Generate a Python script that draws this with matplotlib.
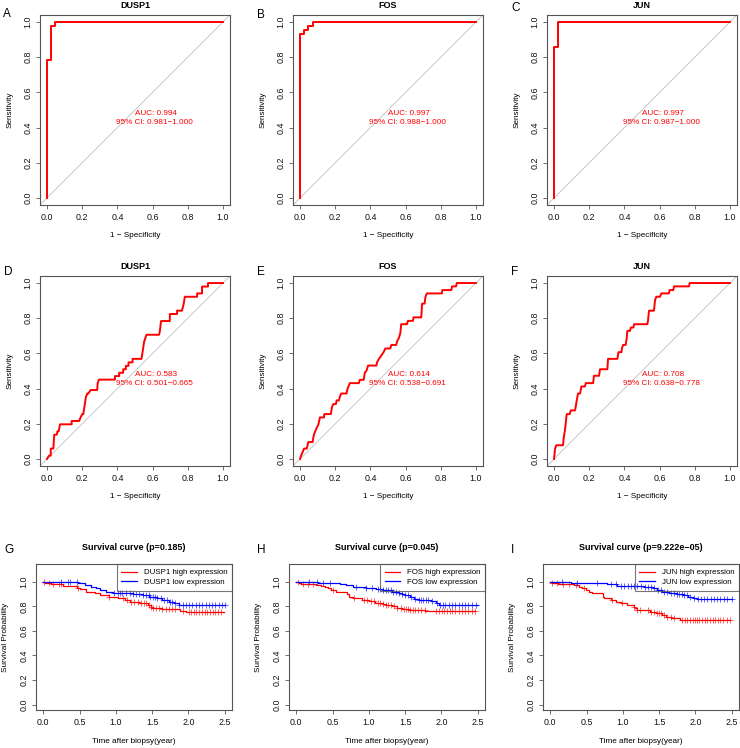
import matplotlib
matplotlib.use("Agg")
import matplotlib.pyplot as plt
import numpy as np

plt.rcParams["font.family"] = ["Liberation Sans", "DejaVu Sans"]

# ---- ROC data (1 - specificity, sensitivity vertices) ----
roc_genes = ["DUSP1", "FOS", "JUN"]

roc_a_fpr = [0, 0, 0.023, 0.023, 0.047, 0.047, 1]
roc_a_tpr = [0, 0.786, 0.786, 0.977, 0.977, 1, 1]
roc_b_fpr = [0, 0, 0.025, 0.025, 0.047, 0.047, 0.072, 0.072, 1]
roc_b_tpr = [0, 0.932, 0.932, 0.955, 0.955, 0.977, 0.977, 1, 1]
roc_c_fpr = [0, 0, 0.025, 0.025, 1]
roc_c_tpr = [0, 0.857, 0.857, 1, 1]

roc_d_fpr = [0.0, 0.011, 0.021, 0.021, 0.036, 0.041, 0.055, 0.059, 0.066, 0.074, 0.140, 0.140,
             0.183, 0.190, 0.200, 0.206, 0.221, 0.229, 0.235, 0.248, 0.285, 0.288, 0.295, 0.386,
             0.386, 0.410, 0.410, 0.433, 0.433, 0.448, 0.448, 0.463, 0.463, 0.486, 0.486, 0.537,
             0.546, 0.552, 0.565, 0.637, 0.641, 0.648, 0.698, 0.698, 0.739, 0.739, 0.767, 0.777,
             0.783, 0.853, 0.853, 0.881, 0.881, 0.915, 0.915, 1.0]
roc_d_tpr = [0.0, 0.019, 0.019, 0.059, 0.059, 0.138, 0.138, 0.157, 0.157, 0.197, 0.197, 0.216,
             0.216, 0.235, 0.255, 0.255, 0.353, 0.372, 0.372, 0.392, 0.392, 0.431, 0.451, 0.451,
             0.471, 0.471, 0.490, 0.490, 0.510, 0.510, 0.529, 0.529, 0.549, 0.549, 0.569, 0.569,
             0.627, 0.667, 0.706, 0.706, 0.725, 0.784, 0.784, 0.824, 0.824, 0.843, 0.843, 0.882,
             0.922, 0.922, 0.941, 0.941, 0.980, 0.980, 1.0, 1.0]

roc_e_fpr = [0.0, 0.006, 0.015, 0.023, 0.038, 0.047, 0.072, 0.075, 0.079, 0.094, 0.104, 0.113,
             0.136, 0.138, 0.175, 0.181, 0.189, 0.204, 0.208, 0.221, 0.226, 0.234, 0.264, 0.270,
             0.283, 0.334, 0.340, 0.362, 0.368, 0.377, 0.387, 0.434, 0.438, 0.449, 0.462, 0.475,
             0.485, 0.513, 0.519, 0.547, 0.551, 0.562, 0.570, 0.575, 0.608, 0.613, 0.642, 0.645,
             0.689, 0.694, 0.708, 0.713, 0.721, 0.806, 0.809, 0.860, 0.864, 0.887, 0.891, 1.0]
roc_e_tpr = [0.0, 0.019, 0.040, 0.059, 0.059, 0.096, 0.096, 0.119, 0.138, 0.176, 0.195, 0.236,
             0.236, 0.255, 0.255, 0.293, 0.312, 0.312, 0.333, 0.333, 0.353, 0.372, 0.372, 0.399,
             0.431, 0.431, 0.450, 0.450, 0.490, 0.501, 0.531, 0.531, 0.550, 0.569, 0.588, 0.607,
             0.628, 0.628, 0.648, 0.648, 0.667, 0.688, 0.715, 0.766, 0.766, 0.785, 0.785, 0.805,
             0.805, 0.883, 0.883, 0.922, 0.941, 0.941, 0.960, 0.960, 0.981, 0.981, 1.0, 1.0]

roc_f_fpr = [0.0, 0.006, 0.013, 0.051, 0.055, 0.061, 0.066, 0.072, 0.089, 0.095, 0.119, 0.123,
             0.129, 0.136, 0.148, 0.152, 0.155, 0.176, 0.180, 0.222, 0.227, 0.256, 0.261, 0.303,
             0.307, 0.360, 0.366, 0.383, 0.386, 0.392, 0.407, 0.413, 0.417, 0.432, 0.436, 0.451,
             0.455, 0.530, 0.534, 0.540, 0.568, 0.574, 0.581, 0.602, 0.610, 0.653, 0.657, 0.678,
             0.682, 0.767, 0.771, 1.0]
roc_f_tpr = [0.0, 0.059, 0.078, 0.078, 0.119, 0.157, 0.198, 0.255, 0.255, 0.276, 0.276, 0.295,
             0.333, 0.372, 0.372, 0.393, 0.412, 0.412, 0.431, 0.431, 0.473, 0.473, 0.510, 0.510,
             0.569, 0.569, 0.607, 0.607, 0.628, 0.648, 0.648, 0.686, 0.728, 0.728, 0.747, 0.747,
             0.766, 0.766, 0.785, 0.843, 0.843, 0.902, 0.922, 0.922, 0.941, 0.941, 0.960, 0.960,
             0.981, 0.981, 1.0, 1.0]

roc_auc = ["0.994", "0.997", "0.997", "0.583", "0.614", "0.708"]
roc_ci = ["0.981\u22121.000", "0.988\u22121.000", "0.987\u22121.000",
          "0.501\u22120.665", "0.538\u22120.691", "0.638\u22120.778"]

# ---- survival data (event times, survival after event, censor times, end time) ----
surv_genes = ["DUSP1", "FOS", "JUN"]
surv_pvals = ["0.185", "0.045", "9.222e\u221205"]

g_high_t = [0.02, 0.10, 0.27, 0.46, 0.50, 0.59, 0.71, 0.78, 0.91, 1.03, 1.12, 1.19, 1.32, 1.44,
            1.48, 1.50, 1.64, 1.89, 1.96]
g_high_s = [0.986, 0.978, 0.965, 0.950, 0.940, 0.920, 0.905, 0.892, 0.878, 0.865, 0.851, 0.838,
            0.824, 0.810, 0.797, 0.784, 0.776, 0.762, 0.751]
g_high_c = [0.014, 0.08, 0.14, 0.21, 0.25, 0.48, 0.91, 1.10, 1.16, 1.21, 1.25, 1.30, 1.35, 1.39,
            1.42, 1.45, 1.48, 1.51, 1.55, 1.60, 1.64, 1.69, 1.73, 1.78, 1.82, 1.92, 2.01, 2.04,
            2.08, 2.11, 2.14, 2.19, 2.23, 2.26, 2.30, 2.34, 2.37, 2.41, 2.45]
g_low_t = [0.48, 0.57, 0.66, 0.73, 0.78, 0.87, 0.96, 1.23, 1.37, 1.46, 1.57, 1.64, 1.73, 1.80, 1.87]
g_low_s = [0.986, 0.973, 0.959, 0.946, 0.932, 0.919, 0.910, 0.900, 0.890, 0.878, 0.865, 0.850,
           0.838, 0.824, 0.810]
g_low_c = [0.25, 0.34, 0.37, 0.47, 0.98, 1.03, 1.06, 1.09, 1.14, 1.19, 1.23, 1.28, 1.32, 1.37,
           1.41, 1.45, 1.47, 1.51, 1.54, 1.57, 1.62, 1.67, 1.71, 1.74, 1.78, 1.82, 1.87, 1.92,
           1.96, 2.01, 2.05, 2.10, 2.14, 2.19, 2.24, 2.28, 2.33, 2.37, 2.42, 2.46, 2.50]

h_high_t = [0.04, 0.07, 0.27, 0.34, 0.39, 0.44, 0.48, 0.55, 0.70, 0.73, 0.78, 0.91, 1.00, 1.09,
            1.19, 1.23, 1.32, 1.39, 1.46, 1.55, 1.78]
h_high_s = [0.986, 0.978, 0.973, 0.965, 0.957, 0.946, 0.932, 0.919, 0.900, 0.878, 0.865, 0.851,
            0.840, 0.830, 0.820, 0.810, 0.800, 0.790, 0.780, 0.770, 0.758]
h_high_c = [0.02, 0.09, 0.16, 0.23, 0.50, 0.80, 0.94, 0.98, 1.03, 1.07, 1.12, 1.16, 1.20, 1.23,
            1.26, 1.30, 1.35, 1.39, 1.44, 1.48, 1.51, 1.54, 1.57, 1.61, 1.64, 1.68, 1.72, 1.77,
            1.92, 1.96, 2.01, 2.04, 2.08, 2.12, 2.15, 2.19, 2.24, 2.28, 2.33, 2.37, 2.42, 2.46]
h_low_t = [0.30, 0.60, 0.68, 0.78, 0.96, 1.10, 1.19, 1.32, 1.41, 1.46, 1.50, 1.57, 1.62, 1.69,
           1.85, 1.92, 1.96]
h_low_s = [0.986, 0.978, 0.973, 0.960, 0.950, 0.940, 0.930, 0.920, 0.910, 0.900, 0.890, 0.876,
           0.860, 0.850, 0.840, 0.830, 0.810]
h_low_c = [0.18, 0.28, 0.37, 0.46, 0.82, 0.96, 1.05, 1.12, 1.16, 1.20, 1.23, 1.26, 1.30, 1.33,
           1.37, 1.41, 1.46, 1.50, 1.54, 1.58, 1.64, 1.69, 1.72, 1.75, 1.79, 1.82, 1.87, 1.94,
           1.98, 2.02, 2.05, 2.10, 2.14, 2.19, 2.24, 2.28, 2.33, 2.37, 2.42, 2.47]

i_high_t = [0.02, 0.10, 0.33, 0.40, 0.44, 0.49, 0.53, 0.58, 0.72, 0.74, 0.83, 0.90, 0.97, 1.06,
            1.15, 1.17, 1.20, 1.38, 1.45, 1.54, 1.60, 1.67, 1.79]
i_high_s = [0.986, 0.978, 0.970, 0.957, 0.946, 0.935, 0.920, 0.910, 0.878, 0.865, 0.851, 0.838,
            0.824, 0.810, 0.797, 0.784, 0.770, 0.757, 0.743, 0.730, 0.716, 0.703, 0.690]
i_high_c = [0.02, 0.09, 0.17, 0.26, 0.35, 0.47, 0.85, 0.99, 1.15, 1.20, 1.23, 1.35, 1.39, 1.43,
            1.47, 1.50, 1.53, 1.57, 1.61, 1.66, 1.71, 1.81, 1.86, 1.89, 1.93, 1.96, 1.99, 2.02,
            2.05, 2.09, 2.13, 2.16, 2.20, 2.24, 2.27, 2.31, 2.34, 2.38, 2.43, 2.47]
i_low_t = [0.28, 0.78, 0.92, 1.29, 1.42, 1.47, 1.54, 1.63, 1.74, 1.83, 1.90, 1.97, 2.02]
i_low_s = [0.986, 0.978, 0.968, 0.957, 0.946, 0.932, 0.920, 0.905, 0.900, 0.890, 0.878, 0.865,
           0.860]
i_low_c = [0.16, 0.37, 0.65, 0.83, 0.90, 0.97, 1.02, 1.07, 1.11, 1.16, 1.20, 1.25, 1.30, 1.34,
           1.39, 1.43, 1.48, 1.52, 1.57, 1.61, 1.66, 1.71, 1.74, 1.77, 1.81, 1.84, 1.89, 1.93,
           1.98, 2.03, 2.07, 2.12, 2.16, 2.21, 2.25, 2.30, 2.34, 2.39, 2.44, 2.50]

surv_ends = [(2.49, 2.50), (2.46, 2.50), (2.47, 2.50)]

W, H = 740, 748
fig = plt.figure(figsize=(W / 100, H / 100), dpi=100)

FRAME = "#555555"
RED = "#FF0000"
BLUE = "#0000FF"


def px_axes(left, top, width, height):
    return fig.add_axes([left / W, 1 - (top + height) / H, width / W, height / H])


def style_axes(ax):
    for sp in ax.spines.values():
        sp.set_color(FRAME)
        sp.set_linewidth(0.8)
    ax.tick_params(length=3, width=0.6, color=FRAME, pad=2.5, labelsize=6.4, labelcolor="#111111")
    for lab in ax.get_yticklabels():
        lab.set_rotation(90)
        lab.set_va("center")


roc_curves = [(roc_a_fpr, roc_a_tpr), (roc_b_fpr, roc_b_tpr), (roc_c_fpr, roc_c_tpr),
              (roc_d_fpr, roc_d_tpr), (roc_e_fpr, roc_e_tpr), (roc_f_fpr, roc_f_tpr)]
col_left = [40, 293, 547]
roc_top = [15, 276]
letters = "ABCDEFGHI"
letter_pos = [(3, 14), (257, 15), (511, 8), (4, 272), (257, 272), (511, 272),
              (4, 550), (257, 550), (511, 550)]

for k, (fpr, tpr) in enumerate(roc_curves):
    r, c = divmod(k, 3)
    ax = px_axes(col_left[c], roc_top[r], 190, 190)
    ax.plot([-0.04, 1.04], [-0.04, 1.04], color="#c8c8c8", lw=0.7, zorder=1)
    ax.plot(fpr, tpr, color=RED, lw=1.4, zorder=2)
    ax.set_xlim(-0.04, 1.04)
    ax.set_ylim(-0.04, 1.04)
    ticks = [0, 0.2, 0.4, 0.6, 0.8, 1.0]
    ax.set_xticks(ticks)
    ax.set_yticks(ticks)
    ax.set_xticklabels([f"{t:.1f}" for t in ticks])
    ax.set_yticklabels([f"{t:.1f}" for t in ticks])
    style_axes(ax)
    ax.text(0.5, 1.05, roc_genes[c], transform=ax.transAxes, ha="center", va="center",
            fontsize=6.5, fontweight="bold")
    ax.text(0.5, -0.163, "1 \u2212 Specificity", transform=ax.transAxes, ha="center",
            va="center", fontsize=5.9)
    ax.text(-0.158, 0.5, "Sensitivity", transform=ax.transAxes, ha="center", va="center",
            rotation=90, fontsize=5.9)
    ax.text(0.62, 0.48, f"AUC: {roc_auc[k]}", color=RED, ha="center", va="center", fontsize=5.9)
    ax.text(0.61, 0.43, f"95% CI: {roc_ci[k]}", color=RED, ha="center", va="center",
            fontsize=5.9)

surv_groups = [
    ((g_high_t, g_high_s, g_high_c), (g_low_t, g_low_s, g_low_c)),
    ((h_high_t, h_high_s, h_high_c), (h_low_t, h_low_s, h_low_c)),
    ((i_high_t, i_high_s, i_high_c), (i_low_t, i_low_s, i_low_c)),
]
surv_left = [36, 289, 543]


def km_value(times, surv, t):
    idx = np.searchsorted(times, t, side="right")
    return 1.0 if idx == 0 else surv[idx - 1]


for c, (high, low) in enumerate(surv_groups):
    ax = px_axes(surv_left[c], 564, 196, 146)
    for (times, surv, cens), col, end in zip((high, low), (RED, BLUE), surv_ends[c]):
        tx = [0] + list(times) + [end]
        sy = [1.0] + list(surv) + [surv[-1]]
        ax.step(tx, sy, where="post", color=col, lw=0.9)
        cy = [km_value(times, surv, t) for t in cens]
        ax.plot(cens, cy, ls="none", marker="+", ms=5, mew=0.6, color=col, alpha=0.7)
    ax.set_xlim(-0.1, 2.6)
    ax.set_ylim(-0.044, 1.144)
    xt = [0, 0.5, 1.0, 1.5, 2.0, 2.5]
    yt = [0, 0.2, 0.4, 0.6, 0.8, 1.0]
    ax.set_xticks(xt)
    ax.set_yticks(yt)
    ax.set_xticklabels([f"{t:.1f}" for t in xt])
    ax.set_yticklabels([f"{t:.1f}" for t in yt])
    style_axes(ax)
    ax.text(0.5, 1.116, f"Survival curve (p={surv_pvals[c]})", transform=ax.transAxes,
            ha="center", va="center", fontsize=6.5, fontweight="bold")
    ax.text(0.5, -0.219, "Time after biopsy(year)", transform=ax.transAxes, ha="center",
            va="center", fontsize=5.9)
    ax.text(-0.158, 0.5, "Survival Probability", transform=ax.transAxes, ha="center",
            va="center", rotation=90, fontsize=5.9)
    h1, = ax.plot([], [], color=RED, lw=0.9)
    h2, = ax.plot([], [], color=BLUE, lw=0.9)
    leg = ax.legend([h1, h2], [f"{surv_genes[c]} high expression", f"{surv_genes[c]} low expression"],
                    loc="upper right", borderaxespad=0, fontsize=5.7, frameon=True,
                    fancybox=False, handlelength=2.0, handletextpad=0.8, labelspacing=0.3,
                    borderpad=0.6)
    fr = leg.get_frame()
    fr.set_facecolor("none")
    fr.set_edgecolor(FRAME)
    fr.set_linewidth(0.8)

for (x, y), L in zip(letter_pos, letters):
    fig.text(x / W, 1 - y / H, L, ha="left", va="center", fontsize=8.5)

fig.savefig("out.png", dpi=100)
